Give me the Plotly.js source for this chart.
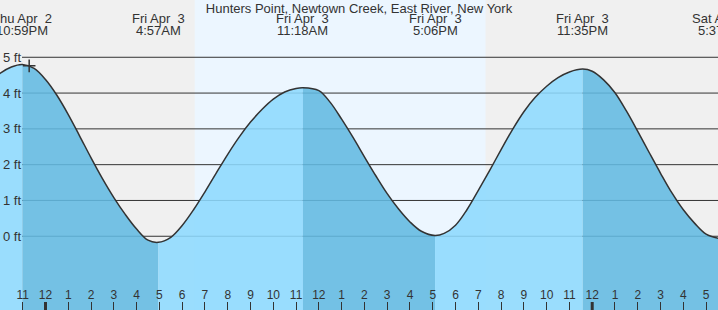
<!DOCTYPE html>
<html>
<head>
<meta charset="utf-8">
<script src="https://cdn.plot.ly/plotly-3.0.1.min.js"></script>
<style>
  html, body { margin: 0; padding: 0; background: #f0f0f0; }
  #chart { width: 718px; height: 310px; }
</style>
</head>
<body>
<div id="chart"></div>
<script>
// ---- Data ----
const chartTitle = 'Hunters Point, Newtown Creek, East River, New York';

// high / low tide events
const eventTimes   = ['2026-04-02 22:59', '2026-04-03 04:57', '2026-04-03 11:18', '2026-04-03 17:06', '2026-04-03 23:35', '2026-04-04 05:37'];
const eventHeights = [4.80, -0.17, 4.15, 0.02, 4.67, -0.07];
const eventDays    = ['Thu Apr\u00a0 2', 'Fri Apr\u00a0 3', 'Fri Apr\u00a0 3', 'Fri Apr\u00a0 3', 'Fri Apr\u00a0 3', 'Sat Apr\u00a0 4'];
const eventClock   = ['10:59PM', '4:57AM', '11:18AM', '5:06PM', '11:35PM', '5:37AM'];

// tide curve readings (ft), including the events
const tideTimes = [
  '2026-04-02 21:30', '2026-04-02 22:00', '2026-04-02 22:30', '2026-04-02 22:59', '2026-04-02 23:30',
  '2026-04-03 00:00', '2026-04-03 00:30', '2026-04-03 01:00', '2026-04-03 01:30', '2026-04-03 02:00',
  '2026-04-03 02:30', '2026-04-03 03:00', '2026-04-03 03:30', '2026-04-03 04:00', '2026-04-03 04:30',
  '2026-04-03 04:57', '2026-04-03 05:30', '2026-04-03 06:00', '2026-04-03 06:30', '2026-04-03 07:00',
  '2026-04-03 07:30', '2026-04-03 08:00', '2026-04-03 08:30', '2026-04-03 09:00', '2026-04-03 09:30',
  '2026-04-03 10:00', '2026-04-03 10:30', '2026-04-03 11:00', '2026-04-03 11:18', '2026-04-03 12:00',
  '2026-04-03 12:30', '2026-04-03 13:00', '2026-04-03 13:30', '2026-04-03 14:00', '2026-04-03 14:30',
  '2026-04-03 15:00', '2026-04-03 15:30', '2026-04-03 16:00', '2026-04-03 16:30', '2026-04-03 17:06',
  '2026-04-03 17:30', '2026-04-03 18:00', '2026-04-03 18:30', '2026-04-03 19:00', '2026-04-03 19:30',
  '2026-04-03 20:00', '2026-04-03 20:30', '2026-04-03 21:00', '2026-04-03 21:30', '2026-04-03 22:00',
  '2026-04-03 22:30', '2026-04-03 23:00', '2026-04-03 23:35', '2026-04-04 00:00', '2026-04-04 00:30',
  '2026-04-04 01:00', '2026-04-04 01:30', '2026-04-04 02:00', '2026-04-04 02:30', '2026-04-04 03:00',
  '2026-04-04 03:30', '2026-04-04 04:00', '2026-04-04 04:30', '2026-04-04 05:00', '2026-04-04 05:37'
];
const tideHeights = [
  4.28, 4.55, 4.73, 4.80, 4.69,
  4.38, 3.94, 3.40, 2.80, 2.19,
  1.61, 1.08, 0.61, 0.20, -0.11,
  -0.17, -0.03, 0.30, 0.74, 1.24,
  1.77, 2.29, 2.77, 3.19, 3.54,
  3.83, 4.03, 4.13, 4.15, 4.07,
  3.74, 3.27, 2.76, 2.22, 1.69,
  1.19, 0.76, 0.40, 0.14, 0.02,
  0.08, 0.31, 0.74, 1.28, 1.84,
  2.42, 2.98, 3.48, 3.88, 4.19,
  4.43, 4.59, 4.67, 4.61, 4.37,
  4.01, 3.50, 2.93, 2.34, 1.76,
  1.21, 0.74, 0.36, 0.06, -0.07
];

// current-time marker
const nowTime = '2026-04-02 23:17';
const nowHeight = 4.76;

// daylight period
const sunrise = '2026-04-03 06:33';
const sunset  = '2026-04-03 19:19';

// height grid
const ftValues = [0, 1, 2, 3, 4, 5];
const ftLabels = ['0 ft', '1 ft', '2 ft', '3 ft', '4 ft', '5 ft'];

// midnight marks
const midnights = ['2026-04-03 00:00', '2026-04-04 00:00'];

// ---- Chart styling ----
const Y_MIN = -2.06, Y_MAX = 6.60;
const X_RANGE = ['2026-04-02 22:00:09', '2026-04-04 05:31:19'];
const FONT = '"Liberation Sans", Arial, sans-serif';
const TXT = '#333333';
const RISING = 'rgba(141,217,254,0.88)';
const FALLING = 'rgba(98,185,225,0.88)';
const W = 718, H = 310;

const toMs = s => new Date(s.replace(' ', 'T')).getTime();
const r0 = toMs(X_RANGE[0]), r1 = toMs(X_RANGE[1]);
const toPaperX = s => (toMs(s) - r0) / (r1 - r0);

const traces = [];
const bounds = [tideTimes[0]].concat(eventTimes);
for (let i = 0; i < bounds.length - 1; i++) {
  const a = toMs(bounds[i]), b = toMs(bounds[i + 1]);
  const xs = [], ys = [];
  tideTimes.forEach((t, k) => {
    const m = toMs(t);
    if (m >= a && m <= b) { xs.push(t); ys.push(tideHeights[k]); }
  });
  if (xs.length < 2) continue;
  const rising = ys[ys.length - 1] > ys[0];
  traces.push({
    x: [xs[0], xs[xs.length - 1]], y: [Y_MIN, Y_MIN],
    mode: 'lines', line: {width: 0}, hoverinfo: 'skip', showlegend: false
  });
  traces.push({
    x: xs, y: ys, mode: 'lines', fill: 'tonexty',
    fillcolor: rising ? RISING : FALLING,
    line: {width: 0, shape: 'spline'}, hoverinfo: 'skip', showlegend: false
  });
}
traces.push({
  x: tideTimes, y: tideHeights, mode: 'lines',
  line: {color: '#333333', width: 1.5, shape: 'spline'},
  hoverinfo: 'skip', showlegend: false
});
traces.push({
  x: [nowTime], y: [nowHeight], mode: 'markers',
  marker: {symbol: 'cross-thin', size: 9, line: {width: 1.5, color: '#333333'}},
  hoverinfo: 'skip', showlegend: false
});

const shapes = [];
shapes.push({
  type: 'rect', xref: 'x', yref: 'paper', x0: sunrise, x1: sunset, y0: 0, y1: 1,
  fillcolor: 'rgb(236,246,255)', line: {width: 0}, layer: 'below'
});
ftValues.forEach(v => shapes.push({
  type: 'line', xref: 'paper', yref: 'y', x0: 22 / W, x1: 1, y0: v, y1: v,
  line: {color: '#333333', width: 1}, layer: 'below'
}));
midnights.forEach(m => shapes.push({
  type: 'line', xref: 'x', yref: 'paper', x0: m, x1: m, y0: 0, y1: 8 / H,
  line: {color: '#333333', width: 3}
}));

const annotations = [];
ftValues.forEach((v, i) => annotations.push({
  x: 1 / W, xref: 'paper', xanchor: 'left', y: v, yref: 'y', yanchor: 'middle',
  text: ftLabels[i], showarrow: false, font: {family: FONT, size: 13, color: TXT}
}));
eventTimes.forEach((t, i) => {
  annotations.push({
    x: toPaperX(t), xref: 'paper', xanchor: 'center', y: 1 - 19 / H, yref: 'paper', yanchor: 'middle',
    text: eventDays[i], showarrow: false, font: {family: FONT, size: 13, color: TXT}
  });
  annotations.push({
    x: toPaperX(t), xref: 'paper', xanchor: 'center', y: 1 - 31 / H, yref: 'paper', yanchor: 'middle',
    text: eventClock[i], showarrow: false, font: {family: FONT, size: 13, color: TXT}
  });
});

const layout = {
  width: W, height: H,
  margin: {l: 0, r: 0, t: 0, b: 0, pad: 0},
  paper_bgcolor: '#f0f0f0', plot_bgcolor: '#f0f0f0',
  showlegend: false,
  title: {
    text: chartTitle, x: 0.5, xanchor: 'center', xref: 'paper',
    y: 1 - 8 / H, yanchor: 'middle', yref: 'container',
    font: {family: FONT, size: 13, color: TXT}
  },
  xaxis: {
    type: 'date', range: X_RANGE, fixedrange: true,
    tick0: '2026-04-03 00:00', dtick: 3600000, tickformat: '%-I',
    ticks: 'inside', ticklen: 8, tickwidth: 1, tickcolor: '#333333',
    ticklabelposition: 'inside',
    tickfont: {family: FONT, size: 12, color: TXT},
    showgrid: false, zeroline: false, showline: false
  },
  yaxis: {
    range: [Y_MIN, Y_MAX], fixedrange: true,
    showticklabels: false, showgrid: false, zeroline: false, showline: false, ticks: ''
  },
  shapes: shapes,
  annotations: annotations
};

Plotly.newPlot('chart', traces, layout, {staticPlot: true, displayModeBar: false});
</script>
</body>
</html>
